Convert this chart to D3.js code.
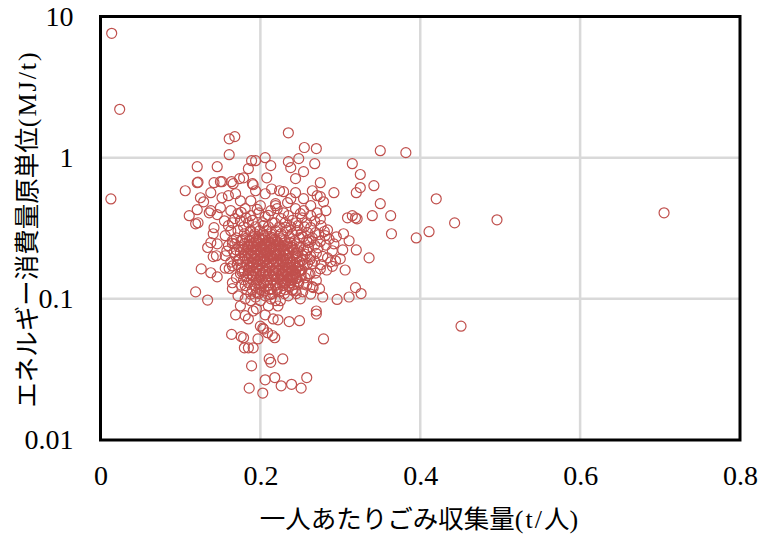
<!DOCTYPE html>
<html><head><meta charset="utf-8">
<script src="https://cdn.jsdelivr.net/npm/d3@7"></script>
<style>html,body{margin:0;background:#fff}svg{display:block}</style></head>
<body><div id="c"></div>
<script>
const xTicks=[0,0.2,0.4,0.6,0.8];
const yTicks=[0.01,0.1,1,10];
const xTitle=[["一人あたりごみ収集量","jp"],["(t/","lat"],["人","jp"],[")","lat"]];
const yTitle=[["エネルギー消費量原単位","jp"],["(MJ/t)","lat"]];
const qty=[
.014,.024,.013,.705,.496,.451,.443,.42,.382,.35,
.161,.168,.161,.121,.146,.189,.194,.206,.213,.185,
.208,.235,.235,.238,.255,.27,.248,.254,.244,.315,
.268,.325,.275,.342,.325,.32,.292,.265,.224,.229,
.244,.271,.275,.121,.122,.142,.15,.152,.164,.174,
.179,.19,.191,.166,.106,.138,.214,.206,.194,
.125,.129,.152,.16,.169,.175,.121,.138,.15,.188,
.2,.219,.234,.238,.279,.254,.35,.363,.34,.321,
.319,.315,.309,.275,.271,.263,.25,.235,.219,.221,
.111,.122,.119,.136,.146,.142,.163,.172,.181,.188,
.198,.206,.213,.229,.244,.254,.263,.282,.175,.165,.155,.163,
.141,.138,.134,.146,.141,.145,.156,.16,.165,.156,
.364,.411,.395,.284,.281,.295,.304,.311,.303,.32,
.336,.306,.3,.29,.284,.288,.294,.272,.26,.269,
.259,.265,.275,.269,.26,.246,.244,.265,.266,.319,
.326,.311,.296,.278,.25,.235,.225,.222,.27,
.126,.138,.146,.156,.165,.119,.134,.165,.165,.172,
.169,.181,.185,.191,.206,.216,.222,.236,.249,.27,
.279,.164,.176,.179,.197,.2,.203,.204,.209,.215,
.218,.18,.185,.191,.211,.213,.228,.189,.206,.218,
.258,.239,.226,.251,.186,.203,
.181,.194,.175,.188,.2,.21,.195,.213,.206,.219,
.185,.203,.215,.231,.245,
.179,.194,.21,.224,.238,.255,
.172,.188,.199,.208,.219,.233,.246,
.18,.193,.203,.213,.226,.24,.251,
.17,.183,.19,.198,.206,.215,.225,.236,.249,
.176,.186,.195,.203,.21,.219,.23,.243,.258,
.168,.18,.189,.196,.205,.213,.223,.234,.245,
.173,.184,.191,.2,.208,.216,.226,.238,.25,
.17,.179,.188,.195,.204,.211,.22,.23,.241,.254,
.175,.185,.193,.201,.209,.218,.225,.235,.246,
.169,.18,.189,.198,.205,.214,.221,.231,.24,.253,
.174,.184,.193,.2,.209,.216,.224,.234,.245,
.178,.188,.196,.204,.213,.22,.229,.238,.249,
.171,.183,.191,.199,.208,.215,.224,.233,.243,.255,
.176,.186,.195,.203,.211,.219,.228,.236,.246,
.18,.19,.199,.206,.215,.223,.231,.24,.25,
.175,.185,.194,.203,.21,.219,.228,.235,.244,
.183,.191,.2,.209,.218,.226,.234,.241,
.179,.189,.198,.206,.215,.224,.233,.24,
.185,.195,.204,.213,.221,.23,.238,.248,
.181,.193,.201,.21,.219,.228,.236,
.19,.2,.211,.221,.231,.24,
.198,.215,.23,.245,
.178,.183,.187,.192,.186,.181,.189,.194,.197,.199,
.202,.205,.207,.209,.211,.212,.214,.217,.218,.221,
.223,.224,.226,.227,.229,.231,.232,.233,.236,.237,
.238,.241,.242,.243,.246,.247,.248,.251,.252,.254,
.193,.196,.201,.204,.207,.208,.213,.216,.219,.222,
.225,.228,.184,.188,.191,.197,.201,.203,.206,.21,
.215,.217,.22,.222,.226,.228,.23,.232,.235,.239,
.24,.244,.245,.249,.192,.199,.202,.206,.211,.214,
.218,.221,.224,.227,.231,.234,.237,.24,.244,.247,
.185,.19,.195,.199,.177,.172,.167,.163,.178,.165,
.158,.161,.17,.176,.183,.188,.196,.205,.212,.221,
.236,.24,.252,.256,.259,.262,.256,.261,.253,.258,
.16,.168,.176,.182,.19,.196,.204,.21,.218,.226,
.232,.24,.247,.252,.258,.263,.268,.276,.28,.273,
.265,.26,.268,.275,.282,.27,.278,.286,.292,.263,
.268,.276,.283,.29,.262,.27,.258,.253,.263,.274];
const energy=[
7.6,2.2,.51,.407,.363,.064,.345,.511,1.085,1.12,
1.36,1.41,1.05,.863,.863,.952,.952,1.0,.878,.835,
.72,1.5,.937,.85,1.18,1.16,.985,.796,.71,.906,
.906,.76,.665,.633,.614,.565,.565,.583,.583,.574,
.565,.538,.53,.665,.67,.665,.676,.676,.676,.71,
.72,.654,.643,.654,.583,.565,.6,.555,.583,
.52,.487,.52,.538,.555,.495,.428,.421,.442,.495,
.457,.472,.48,.512,.487,.512,.472,.388,.388,.369,
.375,.388,.375,.369,.407,.457,.401,.388,.457,.435,
.388,.346,.34,.407,.395,.319,.421,.401,.435,.388,
.407,.382,.421,.407,.435,.421,.388,.421,.357,.346,.357,.304,
.289,.25,.231,.245,.199,.202,.28,.238,.258,.202,
.289,.299,.27,.308,.28,.275,.289,.258,.222,.222,
.195,.16,.192,.219,.195,.183,.186,.23,.23,.294,
.294,.177,.163,.152,.15,.14,.114,.122,.12,.12,
.109,.103,.099,.103,.1,.105,.097,.089,.082,
.163,.153,.143,.165,.171,.112,.098,.13,.118,.105,
.077,.076,.072,.082,.077,.072,.071,.069,.07,.078,
.052,.056,.054,.053,.052,.064,.062,.061,.0575,.055,
.053,.045,.045,.045,.0375,.0355,.0375,.0335,.0267,.0277,
.0277,.0248,.0242,.0233,.0233,.0215,
.1,.103,.089,.097,.097,.089,.085,.1,.105,.097,
.346,.346,.346,.346,.346,
.324,.324,.324,.324,.324,.324,
.304,.304,.304,.304,.304,.304,.304,
.289,.289,.289,.289,.289,.289,.289,
.27,.27,.27,.27,.27,.27,.27,.27,.27,
.258,.258,.258,.258,.258,.258,.258,.258,.258,
.245,.245,.245,.245,.245,.245,.245,.245,.245,
.234,.234,.234,.234,.234,.234,.234,.234,.234,
.222,.222,.222,.222,.222,.222,.222,.222,.222,.222,
.212,.212,.212,.212,.212,.212,.212,.212,.212,
.202,.202,.202,.202,.202,.202,.202,.202,.202,.202,
.193,.193,.193,.193,.193,.193,.193,.193,.193,
.183,.183,.183,.183,.183,.183,.183,.183,.183,
.175,.175,.175,.175,.175,.175,.175,.175,.175,.175,
.166,.166,.166,.166,.166,.166,.166,.166,.166,
.158,.158,.158,.158,.158,.158,.158,.158,.158,
.151,.151,.151,.151,.151,.151,.151,.151,.151,
.144,.144,.144,.144,.144,.144,.144,.144,
.137,.137,.137,.137,.137,.137,.137,.137,
.13,.13,.13,.13,.13,.13,.13,.13,
.124,.124,.124,.124,.124,.124,.124,
.116,.116,.116,.116,.116,.116,
.109,.109,.109,.109,
.262,.218,.301,.277,.241,.197,.169,.226,.254,.189,
.238,.279,.215,.171,.251,.196,.229,.179,.264,.207,
.161,.241,.188,.147,.217,.172,.132,.155,.194,.141,
.168,.181,.126,.152,.199,.133,.172,.147,.187,.127,
.204,.163,.147,.128,.154,.135,.118,.149,.126,.141,
.113,.133,.191,.208,.181,.177,.216,.197,.186,.206,
.192,.203,.185,.177,.202,.159,.193,.206,.148,.16,
.137,.166,.139,.158,.249,.265,.225,.243,.232,.273,
.243,.255,.219,.262,.238,.221,.251,.232,.211,.219,
.16,.147,.137,.121,.155,.187,.214,.182,.233,.247,
.218,.164,.141,.125,.116,.108,.111,.114,.107,.119,
.121,.115,.16,.141,.178,.19,.207,.262,.274,.22,
.33,.37,.41,.375,.36,.43,.33,.39,.345,.37,
.32,.36,.33,.375,.345,.32,.355,.33,.3,.285,
.27,.25,.24,.255,.24,.21,.2,.265,.245,.2,
.185,.175,.16,.17,.15,.135,.125,.112,.108,.118];

const W=761,H=535,plotL=100.5,plotR=740,plotT=16.5,plotB=440;
const x=d3.scaleLinear().domain([0,0.8]).range([plotL,plotR]);
const y=d3.scaleLog().domain([0.01,10]).range([plotB,plotT]);
const svg=d3.select("#c").append("svg").attr("width",W).attr("height",H);
const serif="'Liberation Serif',serif", jp="'Noto Sans CJK JP',sans-serif";

svg.append("g").selectAll("line").data(xTicks.slice(1,-1)).join("line")
 .attr("x1",d=>x(d)).attr("x2",d=>x(d)).attr("y1",plotT).attr("y2",plotB)
 .attr("stroke","#d9d9d9").attr("stroke-width",2.5);
svg.append("g").selectAll("line").data(yTicks.slice(1,-1)).join("line")
 .attr("x1",plotL).attr("x2",plotR).attr("y1",d=>y(d)).attr("y2",d=>y(d))
 .attr("stroke","#d9d9d9").attr("stroke-width",2.5);

svg.append("g").selectAll("circle").data(d3.range(Math.min(qty.length,energy.length))).join("circle")
 .attr("cx",i=>x(qty[i])).attr("cy",i=>y(energy[i])).attr("r",5)
 .attr("fill","none").attr("stroke","#c0504d").attr("stroke-width",1.2);

svg.append("rect").attr("x",plotL).attr("y",plotT).attr("width",plotR-plotL).attr("height",plotB-plotT)
 .attr("fill","none").attr("stroke","#000").attr("stroke-width",3);

const ax=svg.append("g").attr("transform",`translate(0,${plotB})`)
 .call(d3.axisBottom(x).tickValues(xTicks).tickSize(0).tickPadding(25).tickFormat(d=>String(d)));
const ay=svg.append("g").attr("transform",`translate(${plotL},0)`)
 .call(d3.axisLeft(y).tickValues(yTicks).tickSize(0).tickPadding(27).tickFormat(d=>String(d)));
[ax,ay].forEach(g=>{g.select(".domain").remove();
 g.selectAll("text").attr("font-family",serif).attr("font-size",28).attr("fill","#000");});

function title(sel,parts){parts.forEach(([t,k])=>sel.append("tspan").text(t)
 .attr("font-family",k==="jp"?jp:serif).attr("font-size",k==="jp"?25.5:26)
 .attr("letter-spacing",k==="jp"?0:2));}
title(svg.append("text").attr("x",420).attr("y",528).attr("text-anchor","middle").attr("fill","#000"),xTitle);
title(svg.append("text").attr("transform","translate(36,229) rotate(-90)").attr("text-anchor","middle").attr("fill","#000"),yTitle);
</script></body></html>
